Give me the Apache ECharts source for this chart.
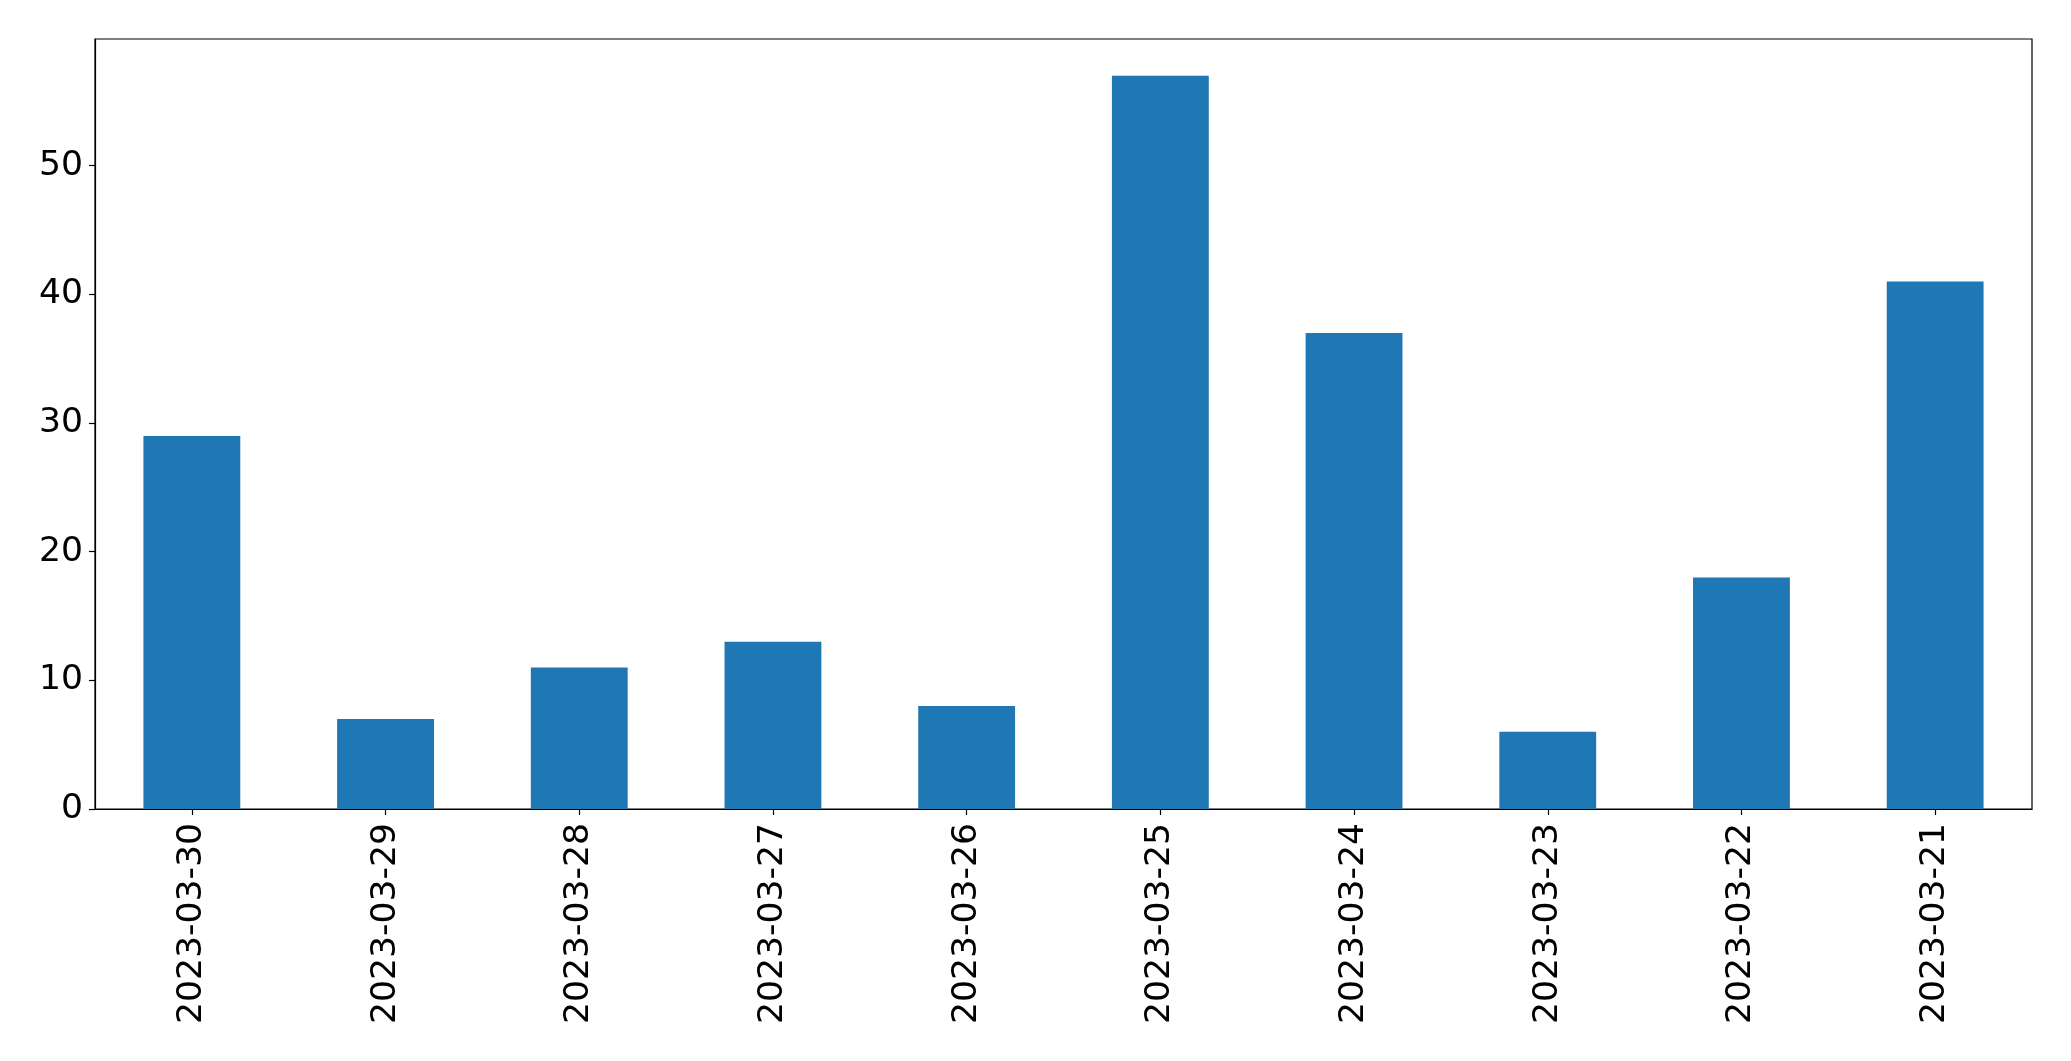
<!DOCTYPE html>
<html>
<head>
<meta charset="utf-8">
<script src="https://cdn.jsdelivr.net/npm/echarts@6/dist/echarts.min.js"></script>
<style>
  html, body { margin: 0; padding: 0; background: #fff; }
  #chart { width: 2071px; height: 1061px; }
</style>
</head>
<body>
<div id="chart"></div>
<script>
// dates as they appear on the x axis (newest first)
const dates = ['2023-03-30', '2023-03-29', '2023-03-28', '2023-03-27', '2023-03-26',
               '2023-03-25', '2023-03-24', '2023-03-23', '2023-03-22', '2023-03-21'];
const counts = [29, 7, 11, 13, 8, 57, 37, 6, 18, 41];
const yTicks = [0, 10, 20, 30, 40, 50];

const chart = echarts.init(document.getElementById('chart'));

const font = 'DejaVu Sans';

chart.setOption({
    animation: false,
    backgroundColor: '#fff',
    grid: {
        left: 95,
        right: 39,
        top: 39,
        bottom: 252,
        show: true,
        borderColor: '#000',
        borderWidth: 1.2,
        containLabel: false
    },
    xAxis: {
        type: 'category',
        data: dates,
        axisLine: { show: true, lineStyle: { color: '#000', width: 1.2 } },
        axisTick: { show: true, alignWithLabel: true, length: 6, lineStyle: { color: '#000', width: 1.2 } },
        axisLabel: {
            rotate: 90,
            interval: 0,
            margin: 14,
            color: '#000',
            fontFamily: font,
            fontSize: 34.6
        },
        splitLine: { show: false }
    },
    yAxis: {
        type: 'value',
        min: 0,
        max: 59.85,
        interval: 10,
        axisLine: { show: true, lineStyle: { color: '#000', width: 1.2 } },
        axisTick: { show: true, length: 6, lineStyle: { color: '#000', width: 1.2 } },
        axisLabel: {
            margin: 12,
            color: '#000',
            fontFamily: font,
            fontSize: 34.6,
            showMaxLabel: false,
            formatter: function (v) { return yTicks.indexOf(v) >= 0 ? String(v) : ''; }
        },
        splitLine: { show: false }
    },
    series: [{
        type: 'bar',
        data: counts,
        barWidth: '50%',
        itemStyle: { color: '#1f77b4' }
    }]
});
</script>
</body>
</html>
